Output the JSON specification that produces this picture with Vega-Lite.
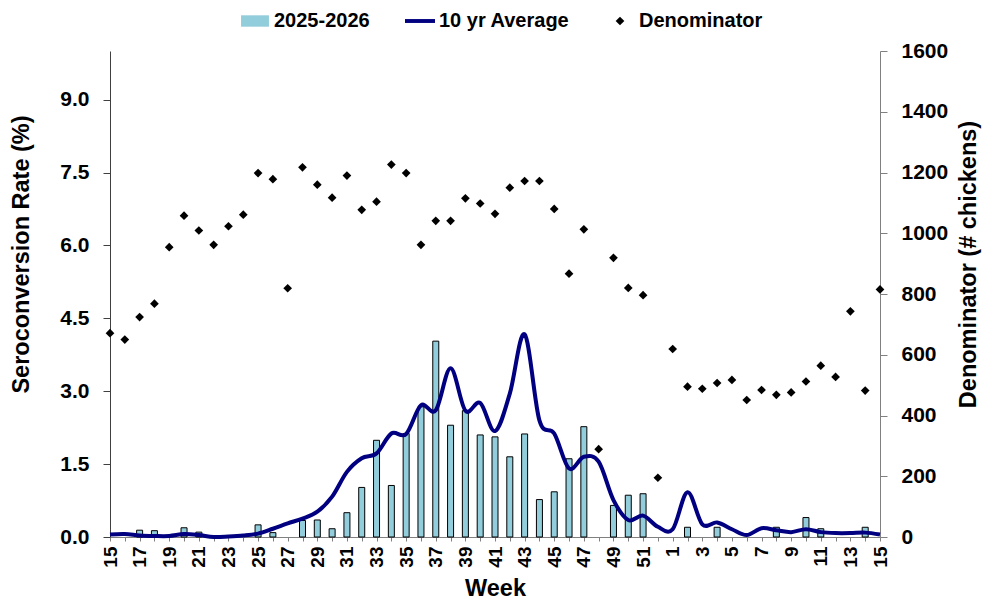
{
  "$schema": "https://vega.github.io/schema/vega-lite/v6.json",
  "width": 770,
  "height": 486,
  "autosize": {"type": "none"},
  "padding": {"left": 110, "top": 51, "right": 104, "bottom": 64},
  "background": "white",
  "config": {
    "view": {"stroke": null},
    "axis": {"grid": false, "labelFont": "Liberation Sans", "titleFont": "Liberation Sans", "labelFontWeight": "bold", "titleFontWeight": "bold", "labelColor": "black", "titleColor": "black"},
    "legend": {
      "title": null, "orient": "none", "legendX": 130, "legendY": -45, "direction": "horizontal",
      "labelFont": "Liberation Sans", "labelFontSize": 20, "labelFontWeight": "bold", "labelColor": "black",
      "labelOffset": 4, "columnPadding": 35, "symbolSize": 900, "symbolStrokeWidth": 0, "symbolOpacity": 1
    }
  },
  "data": {"values": [
    {"period": "2025-15", "week": 15, "rate": null, "avg": 0.05, "denom": 671},
    {"period": "2025-16", "week": 16, "rate": null, "avg": 0.06, "denom": 650},
    {"period": "2025-17", "week": 17, "rate": 0.14, "avg": 0.03, "denom": 724},
    {"period": "2025-18", "week": 18, "rate": 0.13, "avg": 0.02, "denom": 768},
    {"period": "2025-19", "week": 19, "rate": null, "avg": 0.02, "denom": 954},
    {"period": "2025-20", "week": 20, "rate": 0.19, "avg": 0.06, "denom": 1058},
    {"period": "2025-21", "week": 21, "rate": 0.10, "avg": 0.04, "denom": 1009},
    {"period": "2025-22", "week": 22, "rate": null, "avg": 0.0, "denom": 962},
    {"period": "2025-23", "week": 23, "rate": null, "avg": 0.01, "denom": 1023},
    {"period": "2025-24", "week": 24, "rate": null, "avg": 0.03, "denom": 1061},
    {"period": "2025-25", "week": 25, "rate": 0.25, "avg": 0.07, "denom": 1198},
    {"period": "2025-26", "week": 26, "rate": 0.09, "avg": 0.17, "denom": 1178},
    {"period": "2025-27", "week": 27, "rate": null, "avg": 0.28, "denom": 819},
    {"period": "2025-28", "week": 28, "rate": 0.34, "avg": 0.38, "denom": 1217},
    {"period": "2025-29", "week": 29, "rate": 0.35, "avg": 0.52, "denom": 1160},
    {"period": "2025-30", "week": 30, "rate": 0.17, "avg": 0.83, "denom": 1117},
    {"period": "2025-31", "week": 31, "rate": 0.50, "avg": 1.34, "denom": 1190},
    {"period": "2025-32", "week": 32, "rate": 1.02, "avg": 1.62, "denom": 1077},
    {"period": "2025-33", "week": 33, "rate": 1.99, "avg": 1.72, "denom": 1104},
    {"period": "2025-34", "week": 34, "rate": 1.06, "avg": 2.13, "denom": 1226},
    {"period": "2025-35", "week": 35, "rate": 2.13, "avg": 2.12, "denom": 1198},
    {"period": "2025-36", "week": 36, "rate": 2.68, "avg": 2.71, "denom": 962},
    {"period": "2025-37", "week": 37, "rate": 4.03, "avg": 2.61, "denom": 1041},
    {"period": "2025-38", "week": 38, "rate": 2.30, "avg": 3.47, "denom": 1041},
    {"period": "2025-39", "week": 39, "rate": 2.60, "avg": 2.60, "denom": 1115},
    {"period": "2025-40", "week": 40, "rate": 2.10, "avg": 2.76, "denom": 1098},
    {"period": "2025-41", "week": 41, "rate": 2.06, "avg": 2.18, "denom": 1064},
    {"period": "2025-42", "week": 42, "rate": 1.65, "avg": 2.95, "denom": 1150},
    {"period": "2025-43", "week": 43, "rate": 2.12, "avg": 4.17, "denom": 1172},
    {"period": "2025-44", "week": 44, "rate": 0.77, "avg": 2.40, "denom": 1172},
    {"period": "2025-45", "week": 45, "rate": 0.93, "avg": 2.13, "denom": 1080},
    {"period": "2025-46", "week": 46, "rate": 1.61, "avg": 1.41, "denom": 867},
    {"period": "2025-47", "week": 47, "rate": 2.27, "avg": 1.65, "denom": 1013},
    {"period": "2025-48", "week": 48, "rate": null, "avg": 1.55, "denom": 289},
    {"period": "2025-49", "week": 49, "rate": 0.65, "avg": 0.76, "denom": 919},
    {"period": "2025-50", "week": 50, "rate": 0.86, "avg": 0.35, "denom": 820},
    {"period": "2025-51", "week": 51, "rate": 0.89, "avg": 0.44, "denom": 796},
    {"period": "2025-52", "week": 52, "rate": null, "avg": 0.21, "denom": 195},
    {"period": "2026-01", "week": 1, "rate": null, "avg": 0.16, "denom": 619},
    {"period": "2026-02", "week": 2, "rate": 0.20, "avg": 0.92, "denom": 495},
    {"period": "2026-03", "week": 3, "rate": null, "avg": 0.26, "denom": 488},
    {"period": "2026-04", "week": 4, "rate": 0.20, "avg": 0.30, "denom": 507},
    {"period": "2026-05", "week": 5, "rate": null, "avg": 0.16, "denom": 517},
    {"period": "2026-06", "week": 6, "rate": null, "avg": 0.04, "denom": 451},
    {"period": "2026-07", "week": 7, "rate": null, "avg": 0.18, "denom": 484},
    {"period": "2026-08", "week": 8, "rate": 0.20, "avg": 0.14, "denom": 468},
    {"period": "2026-09", "week": 9, "rate": null, "avg": 0.10, "denom": 476},
    {"period": "2026-10", "week": 10, "rate": 0.40, "avg": 0.16, "denom": 512},
    {"period": "2026-11", "week": 11, "rate": 0.17, "avg": 0.10, "denom": 564},
    {"period": "2026-12", "week": 12, "rate": null, "avg": 0.08, "denom": 527},
    {"period": "2026-13", "week": 13, "rate": null, "avg": 0.08, "denom": 743},
    {"period": "2026-14", "week": 14, "rate": 0.20, "avg": 0.09, "denom": 482},
    {"period": "2026-15", "week": 15, "rate": null, "avg": 0.05, "denom": 815}
  ]},
  "encoding": {
    "x": {
      "field": "period", "type": "ordinal",
      "scale": {"type": "point", "padding": 0},
      "axis": {
        "title": "Week", "titleFontSize": 23.5, "titlePadding": 9,
        "labelFontSize": 19, "labelAngle": -90, "labelPadding": 5, "labelOverlap": false,
        "labelExpr": "toNumber(slice(datum.value,5)) % 2 == 1 ? toString(toNumber(slice(datum.value,5))) : ''",
        "tickSize": 4, "domainColor": "#808080", "tickColor": "#808080"
      }
    }
  },
  "layer": [
    {
      "layer": [
        {
          "mark": {"type": "bar", "size": 6, "stroke": "black", "strokeWidth": 1},
          "encoding": {
            "y": {
              "field": "rate", "type": "quantitative",
              "scale": {"domain": [0, 10], "nice": false},
              "axis": {
                "orient": "left", "title": "Seroconversion Rate (%)", "titleFontSize": 23.5, "titlePadding": 26, "titleY": 203,
                "values": [0, 1.5, 3, 4.5, 6, 7.5, 9], "format": ".1f",
                "labelFontSize": 21, "labelPadding": 14, "tickSize": 7,
                "domainColor": "#404040", "tickColor": "#404040"
              }
            },
            "color": {
              "datum": "2025-2026",
              "scale": {"domain": ["2025-2026", "10 yr Average", "Denominator"], "range": ["#92CDDC", "#000080", "#000000"]}
            }
          }
        },
        {
          "mark": {"type": "line", "interpolate": "cardinal", "tension": 0, "strokeWidth": 4},
          "encoding": {
            "y": {
              "field": "avg", "type": "quantitative",
              "axis": {
                "orient": "left", "title": "Seroconversion Rate (%)", "titleFontSize": 23.5, "titlePadding": 26, "titleY": 203,
                "values": [0, 1.5, 3, 4.5, 6, 7.5, 9], "format": ".1f",
                "labelFontSize": 21, "labelPadding": 14, "tickSize": 7,
                "domainColor": "#404040", "tickColor": "#404040"
              }
            },
            "color": {
              "datum": "10 yr Average",
              "scale": {"domain": ["2025-2026", "10 yr Average", "Denominator"], "range": ["#92CDDC", "#000080", "#000000"]}
            }
          }
        }
      ]
    },
    {
      "mark": {"type": "point", "filled": true, "size": 900, "opacity": 1},
      "encoding": {
        "y": {
          "field": "denom", "type": "quantitative",
          "scale": {"domain": [0, 1600], "nice": false},
          "axis": {
            "orient": "right", "title": "Denominator (# chickens)", "titleFontSize": 23.5, "titlePadding": 9, "titleY": 213,
            "titleAngle": 270, "titleBaseline": "top",
            "values": [0, 200, 400, 600, 800, 1000, 1200, 1400, 1600], "format": "d",
            "labelFontSize": 21, "labelPadding": 14, "tickSize": 7,
            "domainColor": "#808080", "tickColor": "#808080"
          }
        },
        "color": {
          "datum": "Denominator",
          "scale": {"domain": ["2025-2026", "10 yr Average", "Denominator"], "range": ["#92CDDC", "#000080", "#000000"]}
        },
        "shape": {
          "datum": "Denominator",
          "scale": {"domain": ["2025-2026", "10 yr Average", "Denominator"], "range": ["M-0.93,-0.38H0.93V0.38H-0.93Z", "M-1,-0.13H1V0.13H-1Z", "M0,-0.29L0.29,0L0,0.29L-0.29,0Z"]}
        }
      }
    }
  ],
  "resolve": {"scale": {"y": "independent"}}
}
